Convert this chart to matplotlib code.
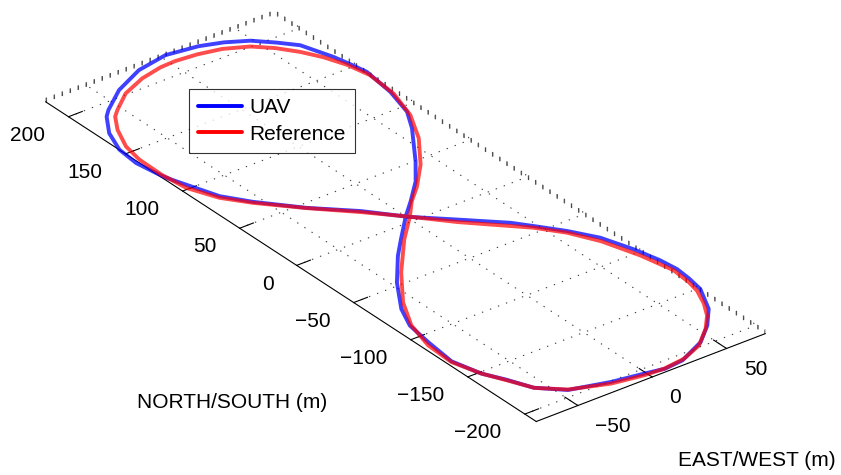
import numpy as np
import matplotlib
matplotlib.use("Agg")
import matplotlib.pyplot as plt

plt.rcParams["font.family"] = ["Liberation Sans", "DejaVu Sans"]
plt.rcParams["grid.linestyle"] = (0, (1.2, 6.5))
plt.rcParams["grid.color"] = "#404040"
plt.rcParams["grid.linewidth"] = 0.8

# Reference (commanded) figure-eight, metres
east_ref = [0.4, 11.3, 22.8, 38.8, 55.2, 66.7, 73.6, 75.5, 72.5, 67.5, 61.1, 53.0,
            43.5, 30.0, 15.9, 2.0, -8.0, -23.1, -39.8, -54.0, -59.3, -66.9, -74.1,
            -77.0, -77.4, -75.5, -67.9, -57.0, -37.9, -17.3, 0.4,
            17.1, 37.0, 45.7, 56.6, 65.5, 72.8, 77.3, 76.0, 73.9, 68.5, 62.0, 52.8,
            39.2, 24.3, 9.4, -3.4, -22.8, -44.9, -58.0, -64.9, -71.2, -76.4, -75.4,
            -69.6, -58.1, -39.5, -16.6, 0.4]
north_ref = [3.0, 15.5, 26.0, 43.6, 66.6, 89.0, 112.7, 136.0, 152.0, 166.0, 178.1,
             189.5, 198.9, 206.0, 209.5, 211.0, 210.5, 207.0, 199.7, 188.4, 183.5,
             171.5, 154.7, 139.2, 119.4, 100.0, 80.8, 65.7, 44.0, 22.8, 3.0,
             -17.0, -37.6, -46.6, -61.7, -80.0, -104.6, -128.0, -143.0, -153.0,
             -166.0, -177.3, -188.0, -199.9, -206.3, -208.3, -207.4, -203.7,
             -194.7, -182.5, -166.8, -153.1, -133.6, -111.9, -89.6, -67.3, -41.4,
             -14.3, 3.0]

# Flown UAV track, metres
east_uav = [-0.9, 10.9, 25.9, 38.8, 58.8, 67.5, 73.3, 76.3, 74.2, 71.9, 68.5, 65.4,
            57.3, 47.3, 35.0, 21.7, 1.9, -19.1, -40.4, -57.8, -62.9, -72.6, -79.0,
            -80.6, -78.0, -75.5, -66.8, -56.4, -37.7, -16.6, -0.6,
            18.7, 39.1, 46.8, 57.7, 67.4, 74.0, 78.0, 79.5, 78.5, 76.4, 67.0, 55.6,
            42.0, 22.5, 9.6, -2.3, -21.7, -45.2, -58.3, -64.6, -71.2, -75.9, -73.3,
            -70.3, -63.1, -47.8, -30.1, -18.0, -0.9]
north_uav = [4.8, 15.9, 31.1, 48.0, 77.2, 92.9, 115.2, 139.6, 152.0, 163.1, 174.0,
             183.8, 193.5, 203.8, 211.0, 216.0, 219.2, 215.1, 204.7, 191.3, 186.3,
             171.4, 154.1, 137.4, 117.5, 109.0, 82.2, 66.6, 44.2, 23.6, 3.7,
             -14.9, -34.9, -45.2, -60.2, -76.7, -97.3, -115.0, -128.2, -140.0,
             -152.6, -172.2, -185.8, -197.7, -207.2, -208.6, -206.0, -202.3,
             -195.1, -182.0, -166.4, -153.1, -133.0, -109.2, -89.1, -72.3, -48.5,
             -26.3, -13.2, 4.8]

altitude = 1.0

east_lim = (-78, 76)
north_lim = (-210, 220)
alt_lim = (0, 2)
east_ticks = [-50, 0, 50]
north_ticks = [-200, -150, -100, -50, 0, 50, 100, 150, 200]
alt_ticks = [0, 0.5, 1.0, 1.5, 2.0]

fig = plt.figure(figsize=(8.41, 4.75), dpi=100)
ax = fig.add_axes([-0.0314, -0.3787, 1.0, 1.8], projection="3d")
ax.set_proj_type("ortho")
ax.view_init(elev=30, azim=-127.5)

ax.plot(east_uav, north_uav, np.full(len(east_uav), altitude),
        color="#0000ff", lw=2.8, alpha=0.75, solid_joinstyle="round",
        solid_capstyle="round", label="UAV")
ax.plot(east_ref, north_ref, np.full(len(east_ref), altitude),
        color="#ff0000", lw=2.8, alpha=0.7, solid_joinstyle="round",
        solid_capstyle="round", label="Reference")

ax.set_xlim(*east_lim)
ax.set_ylim(*north_lim)
ax.set_zlim(*alt_lim)
ax.set_box_aspect((east_lim[1] - east_lim[0], north_lim[1] - north_lim[0], 2.15), zoom=0.988)

ax.set_xticks(east_ticks)
ax.set_yticks(north_ticks)
ax.set_zticks(alt_ticks)
ax.set_zticklabels([])
ax.tick_params(axis="x", labelsize=15, pad=3)
ax.tick_params(axis="y", labelsize=15, pad=24)
plt.setp(ax.get_xticklabels(), ha="left")
plt.setp(ax.get_yticklabels(), ha="right")

for a in (ax.xaxis, ax.yaxis, ax.zaxis):
    a.pane.fill = False
    a.pane.set_edgecolor("none")
ax.zaxis.line.set_color((0, 0, 0, 0))
ax.zaxis._axinfo["tick"]["inward_factor"] = 0.0
ax.zaxis._axinfo["tick"]["outward_factor"] = 0.0
ax.xaxis._axinfo["tick"]["inward_factor"] = 0.0
ax.xaxis._axinfo["tick"]["outward_factor"] = 0.33
ax.yaxis._axinfo["tick"]["inward_factor"] = 0.0
ax.yaxis._axinfo["tick"]["outward_factor"] = 0.75
ax.grid(True)

fig.text(757 / 841, 1 - 460 / 475, "EAST/WEST (m)", fontsize=15, ha="center", va="center")
fig.text(232 / 841, 1 - 402 / 475, "NORTH/SOUTH (m)", fontsize=15, ha="center", va="center")

leg = fig.legend(loc="upper left", bbox_to_anchor=(189 / 841, 1 - 89 / 475),
                 borderaxespad=0, fontsize=15, frameon=True, fancybox=False,
                 edgecolor="black", handlelength=2.1, handletextpad=0.35,
                 labelspacing=0.35, borderpad=0.45)
leg.get_frame().set_linewidth(0.8)
for h in leg.get_lines():
    h.set_alpha(1.0)

fig.savefig("out.png", dpi=100)
